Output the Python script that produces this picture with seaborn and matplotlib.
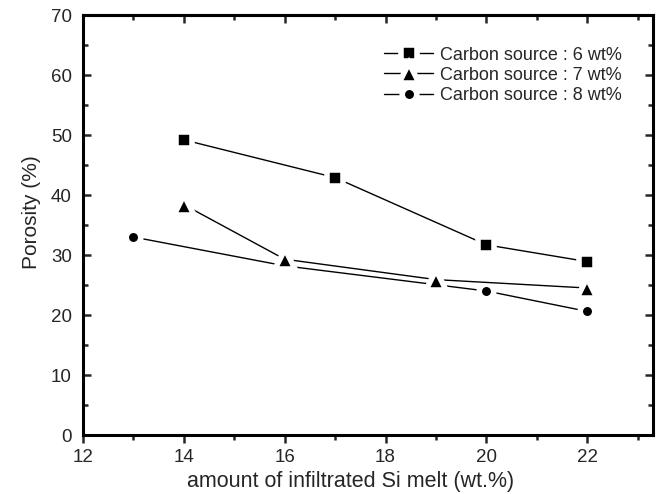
import matplotlib
matplotlib.use("Agg")
import matplotlib.pyplot as plt
from matplotlib.lines import Line2D
from matplotlib.ticker import MultipleLocator
import pandas as pd
import seaborn as sns

# values
si_6 = [14, 17, 20, 22]
por_6 = [49.2, 42.9, 31.7, 28.9]
si_7 = [14, 16, 19, 22]
por_7 = [38.4, 29.3, 25.9, 24.5]
si_8 = [13, 16, 20, 22]
por_8 = [33.0, 28.2, 24.0, 20.6]

labels = ["Carbon source : 6 wt%", "Carbon source : 7 wt%", "Carbon source : 8 wt%"]
markers = ["s", "^", "o"]
msizes = [11.5, 14, 10.5]

x_ticks = [12, 14, 16, 18, 20, 22]
y_ticks = [0, 10, 20, 30, 40, 50, 60, 70]

sns.set_style("ticks")
plt.rcParams["font.family"] = ["Liberation Sans", "DejaVu Sans"]
plt.rcParams["font.size"] = 13

frames = []
for xs, ys, lab in zip([si_6, si_7, si_8], [por_6, por_7, por_8], labels):
    frames.append(pd.DataFrame({"si": xs, "porosity": ys, "series": lab}))
df = pd.concat(frames, ignore_index=True)

fig = plt.figure(figsize=(6.68, 4.94), dpi=100)
ax = fig.add_axes([0.124, 0.1194, 0.8535, 0.8502])

# Origin-style lines: white marker edge cuts a gap in the line round each symbol
handles = []
for i, (lab, mk, ms) in enumerate(zip(labels, markers, msizes)):
    sub = df[df["series"] == lab]
    sns.lineplot(data=sub, x="si", y="porosity", ax=ax, color="black",
                 linewidth=1.0, marker=mk, markersize=ms,
                 markerfacecolor="black", markeredgecolor="white",
                 markeredgewidth=4, estimator=None, legend=False,
                 zorder=5 - i)
    handles.append(Line2D([], [], color="black", linewidth=1.0, marker=mk,
                          markersize=ms, markerfacecolor="black",
                          markeredgecolor="white", markeredgewidth=4))

ax.set_xlim(12, 23.3)
ax.set_ylim(0, 70)
ax.set_xticks(x_ticks)
ax.set_yticks(y_ticks)
ax.xaxis.set_minor_locator(MultipleLocator(1))
ax.yaxis.set_minor_locator(MultipleLocator(5))

for s in ax.spines.values():
    s.set_linewidth(2.2)
    s.set_color("black")

ax.tick_params(axis="x", which="major", direction="out", length=6, width=1.8,
               pad=4, labelsize=13.5)
ax.tick_params(axis="x", which="minor", direction="out", length=3.5, width=1.8)
ax.tick_params(axis="y", which="major", direction="in", length=6, width=1.8,
               right=True, pad=8, labelsize=13.5)
ax.tick_params(axis="y", which="minor", direction="in", length=3.5, width=1.8,
               right=True)

# top axis ticks point inward
top = ax.secondary_xaxis("top")
top.set_xticks(x_ticks)
top.xaxis.set_minor_locator(MultipleLocator(1))
top.tick_params(which="major", direction="in", length=6, width=1.8, labeltop=False)
top.tick_params(which="minor", direction="in", length=3.5, width=1.8)
top.spines["top"].set_linewidth(2.2)

ax.set_xlabel("amount of infiltrated Si melt (wt.%)", fontsize=15.5, labelpad=4)
ax.set_ylabel("Porosity (%)", fontsize=15, labelpad=7)
ax.xaxis.label.set_x(0.47)
ax.yaxis.label.set_y(0.53)

ax.legend(handles, labels, loc="upper right", bbox_to_anchor=(0.968, 0.955),
          frameon=False, fontsize=13, handlelength=2.7, handletextpad=0.4,
          labelspacing=0.18, borderpad=0.2, numpoints=1)

fig.savefig("out.png", dpi=100)
